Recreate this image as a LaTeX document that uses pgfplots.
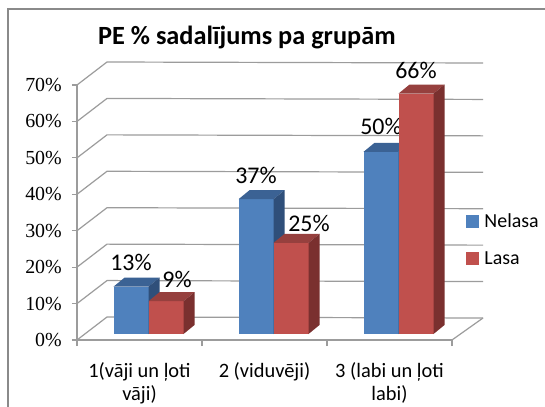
\documentclass[border=0pt]{standalone}
\usepackage{pgfplots}
\pgfplotsset{compat=1.18}
\usepackage{pgfplotstable}
\usepackage{fontspec}
\setmainfont{Carlito}
\newfontfamily\serifnum{Liberation Serif}
\definecolor{bfront}{HTML}{4F81BD}
\definecolor{btop}{HTML}{3B6294}
\definecolor{bside}{HTML}{2F4F7A}
\definecolor{rfront}{HTML}{C0504D}
\definecolor{rtop}{HTML}{96403E}
\definecolor{rside}{HTML}{7A302F}
\definecolor{gridc}{HTML}{9C9C9C}
\definecolor{framec}{HTML}{8A8A8A}

\newcommand\drawbox[4]{%
  \pgfmathsetlengthmacro\barh{\rawy*3.642857bp}%
  \pgfmathsetlengthmacro\xl{#4-17.5bp}%
  \pgfmathsetlengthmacro\xr{#4+17.5bp}%
  \pgfmathsetlengthmacro\yb{6bp-\barh}%
  \pgfmathsetlengthmacro\yt{6bp}%
  \pgfmathsetlengthmacro\xlb{\xl+11bp}%
  \pgfmathsetlengthmacro\xrb{\xr+11bp}%
  \pgfmathsetlengthmacro\ybb{\yb+9bp}%
  \pgfmathsetlengthmacro\ytb{\yt+9bp}%
  \pgfsetfillcolor{#1}%
  \pgfpathrectanglecorners{\pgfpoint{\xl}{\yb}}{\pgfpoint{\xr}{\yt}}\pgfusepathqfill
  \pgfsetfillcolor{#2}%
  \pgfpathmoveto{\pgfpoint{\xl}{\yt}}\pgfpathlineto{\pgfpoint{\xlb}{\ytb}}%
  \pgfpathlineto{\pgfpoint{\xrb}{\ytb}}\pgfpathlineto{\pgfpoint{\xr}{\yt}}\pgfpathclose\pgfusepathqfill
  \pgfsetfillcolor{#3}%
  \pgfpathmoveto{\pgfpoint{\xr}{\yt}}\pgfpathlineto{\pgfpoint{\xrb}{\ytb}}%
  \pgfpathlineto{\pgfpoint{\xrb}{\ybb}}\pgfpathlineto{\pgfpoint{\xr}{\yb}}\pgfpathclose\pgfusepathqfill
}
\pgfdeclareplotmark{bluebox}{\drawbox{bfront}{btop}{bside}{-8.5bp}}
\pgfdeclareplotmark{redbox}{\drawbox{rfront}{rtop}{rside}{26.5bp}}

\pgfplotstableread{
x y ldx ldy
0.5 13 0 24
1.5 37 0 24
2.5 50 0 25
}\nelasa
\pgfplotstableread{
x y ldx ldy
0.5 9 11 22
1.5 25 18 19
2.5 66 0 23
}\lasa

\begin{document}
\begin{tikzpicture}
\useasboundingbox (0,0) rectangle (545bp,407bp);
\fill[white] (0,0) rectangle (545bp,407bp);
\draw[framec, line width=1.5bp] (8bp,-5bp) -- (8bp,398bp) -- (560bp,398bp);
\begin{axis}[
  at={(77bp,67bp)}, anchor=south west,
  scale only axis, width=375bp, height=255bp,
  xmin=0, xmax=3, ymin=0, ymax=70,
  clip=false,
  /pgf/number format/assume math mode=true,
  axis lines*=left,
  axis line style={gridc, line width=1.2bp},
  tick align=outside,
  ytick={0,10,...,70},
  yticklabels={0\%,10\%,20\%,30\%,40\%,50\%,60\%,70\%},
  yticklabel style={font=\serifnum\fontsize{20}{24}\selectfont, anchor=east, inner sep=0pt, xshift=-10bp},
  xtick={0.5,1.5,2.5},
  xticklabels={{1(vāji un ļoti\\vāji)},{2 (viduvēji)},{3 (labi un ļoti\\labi)}},
  xticklabel style={font=\fontsize{20.5}{23.5}\selectfont, align=center, anchor=north, inner sep=0pt, yshift=-17bp},
  minor xtick={0,1,2,3},
  major tick length=5bp,
  minor tick length=6bp,
  tick style={gridc, line width=1.2bp},
  major x tick style={draw=none},
  title={\bfseries PE \% sadalījums pa grupām},
  title style={at={(axis description cs:0.453,1.204)}, anchor=center, yshift=-10bp, font=\fontsize{26.4}{30}\selectfont, inner sep=0pt},
  legend style={at={(axis description cs:1.037,0.394)}, anchor=west, draw=none, fill=none,
    font=\fontsize{20}{22}\selectfont, row sep=19bp, inner sep=0pt,
    /tikz/every odd column/.append style={column sep=4bp}},
  legend cell align=left,
]
\pgfplotsinvokeforeach{0,10,...,70}{
  \draw[gridc, line width=1.2bp] (axis cs:0,#1) -- ++(30bp,23bp) -- ([xshift=31bp,yshift=22bp]axis cs:3,#1);
}
\draw[gridc, line width=1.2bp] (axis cs:3,0) -- ++(31bp,22bp);

\addlegendimage{legend image code/.code={\fill[bfront] (0bp,-6bp) rectangle (12bp,6bp);}}
\addlegendentry{Nelasa}
\addlegendimage{legend image code/.code={\fill[rfront] (0bp,-6bp) rectangle (12bp,6bp);}}
\addlegendentry{Lasa}

\addplot[forget plot, only marks, mark=bluebox, scatter,
  scatter/@pre marker code/.code={}, scatter/@post marker code/.code={},
  visualization depends on={\thisrow{y}\as\rawy},
  visualization depends on={\thisrow{ldx}\as\ldx},
  visualization depends on={\thisrow{ldy}\as\ldy},
  nodes near coords={\pgfmathprintnumber{\rawy}\%},
  every node near coord/.append style={anchor=center, font=\fontsize{24}{24}\selectfont, text=black, inner sep=0pt,
    xshift={(\ldx-8.5)*1bp}, yshift={(\ldy+6)*1bp}}
] table[x=x,y=y] {\nelasa};
\addplot[forget plot, only marks, mark=redbox, scatter,
  scatter/@pre marker code/.code={}, scatter/@post marker code/.code={},
  visualization depends on={\thisrow{y}\as\rawy},
  visualization depends on={\thisrow{ldx}\as\ldx},
  visualization depends on={\thisrow{ldy}\as\ldy},
  nodes near coords={\pgfmathprintnumber{\rawy}\%},
  every node near coord/.append style={anchor=center, font=\fontsize{24}{24}\selectfont, text=black, inner sep=0pt,
    xshift={(\ldx+26.5)*1bp}, yshift={(\ldy+6)*1bp}}
] table[x=x,y=y] {\lasa};
\end{axis}
\end{tikzpicture}
\end{document}
